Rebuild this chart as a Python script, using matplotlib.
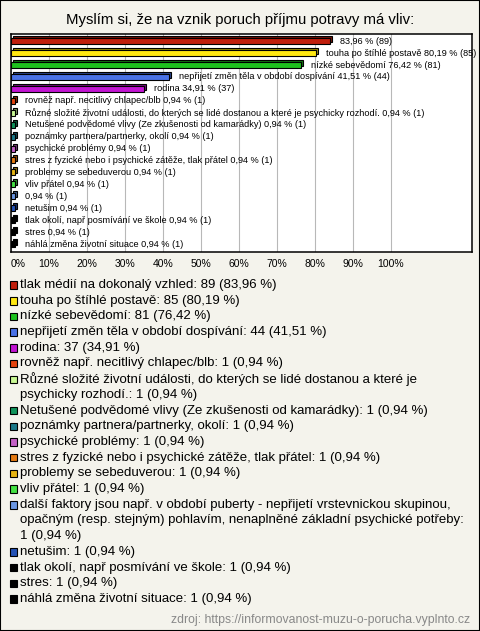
import numpy as np
import matplotlib.pyplot as plt
from matplotlib.patches import Rectangle
from matplotlib.transforms import ScaledTranslation

plt.rcParams['font.family'] = ['Liberation Sans', 'DejaVu Sans']

W, H, DPI = 480, 631, 100

title = "Myslím si, že na vznik poruch příjmu potravy má vliv:"
source = "zdroj: https://informovanost-muzu-o-porucha.vyplnto.cz"

answers = [
    "tlak médií na dokonalý vzhled",
    "touha po štíhlé postavě",
    "nízké sebevědomí",
    "nepřijetí změn těla v období dospívání",
    "rodina",
    "rovněž např. necitlivý chlapec/blb",
    "Různé složité životní události, do kterých se lidé dostanou a které je psychicky rozhodí.",
    "Netušené podvědomé vlivy (Ze zkušenosti od kamarádky)",
    "poznámky partnera/partnerky, okolí",
    "psychické problémy",
    "stres z fyzické nebo i psychické zátěže, tlak přátel",
    "problemy se sebeduverou",
    "vliv přátel",
    "další faktory jsou např. v období puberty - nepřijetí vrstevnickou skupinou, "
    "opačným (resp. stejným) pohlavím, nenaplněné základní psychické potřeby",
    "netušim",
    "tlak okolí, např posmívání ve škole",
    "stres",
    "náhlá změna životní situace",
]
counts = [89, 85, 81, 44, 37, 1, 1, 1, 1, 1, 1, 1, 1, 1, 1, 1, 1, 1]
percents = [83.96, 80.19, 76.42, 41.51, 34.91, 0.94, 0.94, 0.94, 0.94,
            0.94, 0.94, 0.94, 0.94, 0.94, 0.94, 0.94, 0.94, 0.94]
colors = ["#c01e0c", "#ffe812", "#1ec21e", "#4a72e6", "#c214d2", "#e4440e",
          "#c8f894", "#10945c", "#1a7888", "#c462c6", "#e47a12", "#e6b414",
          "#44e244", "#6a96e2", "#2452b4", "#000000", "#000000", "#000000"]
# the chart itself leaves the answer text out of these bar labels
hide_name = [True, False, False, False, False, False, False, False, False,
             False, False, False, False, True, False, False, False, False]


def cz(p):
    return f"{p:.2f}".replace(".", ",")


def darker(c, f=0.6):
    r, g, b = [int(c[i:i + 2], 16) / 255 for i in (1, 3, 5)]
    return (r * f, g * f, b * f)


fig = plt.figure(figsize=(W / DPI, H / DPI), dpi=DPI)
fig.patch.set_facecolor("#f4f3ec")
fig.patches.append(Rectangle((0, 0), 1, 1, transform=fig.transFigure,
                             fill=False, edgecolor="black", lw=1.5))

fig.text(0.5, 1 - 20 / H, title, ha="center", va="center", fontsize=10.7)

ax = fig.add_axes([11 / W, 1 - 252 / H, 461 / W, 218 / H])
ax.set_facecolor("white")
for s in ax.spines.values():
    s.set_linewidth(1.1)

y = np.arange(len(answers))
back = ax.transData + ScaledTranslation(2 / DPI, 2 / DPI, fig.dpi_scale_trans)
ax.barh(y, percents, height=0.5, color=[darker(c) for c in colors],
        edgecolor="black", linewidth=0.8, transform=back, zorder=2)
ax.barh(y, percents, height=0.5, color=colors, edgecolor="black",
        linewidth=0.8, zorder=3)

for i, (name, p, n) in enumerate(zip(answers, percents, counts)):
    txt = f"{cz(p)} % ({n})" if hide_name[i] else f"{name} {cz(p)} % ({n})"
    ax.annotate(txt, (p, i), xytext=(10, 0), textcoords="offset pixels",
                va="center", ha="left", fontsize=6.6, annotation_clip=False,
                zorder=4)

ax.set_xlim(0, 461 / 3.8)
ax.set_ylim(len(answers) - 0.33, -0.6)
ticks = np.arange(0, 101, 10)
ax.set_xticks(ticks)
ax.set_xticklabels([f"{t}%" for t in ticks], fontsize=7.5)
ax.get_xticklabels()[0].set_ha("left")
ax.set_yticks([])
ax.tick_params(axis="x", length=0, pad=5)
ax.grid(axis="x", color="#b8b8b8", lw=0.8)
ax.set_axisbelow(True)

# legend below the plot, drawn line by line
renderer = fig.canvas.get_renderer()
LEG_FS = 9.5
MAX_W = 470 - 20


def text_w(s):
    t = fig.text(0, 0, s, fontsize=LEG_FS)
    w = t.get_window_extent(renderer).width
    t.remove()
    return w


def wrap(s):
    lines, cur = [], ""
    for word in s.split(" "):
        test = word if not cur else cur + " " + word
        if cur and text_w(test) > MAX_W:
            lines.append(cur)
            cur = word
        else:
            cur = test
    lines.append(cur)
    return lines


line_y = 285
step = 15.7
for name, p, n, c in zip(answers, percents, counts, colors):
    lines = wrap(f"{name}: {n} ({cz(p)} %)")
    fig.patches.append(Rectangle((9.5 / W, 1 - (line_y + 3.8) / H),
                                 7.5 / W, 7.5 / H, transform=fig.transFigure,
                                 facecolor=c, edgecolor="black", lw=0.8))
    for ln in lines:
        fig.text(20 / W, 1 - line_y / H, ln, ha="left", va="center",
                 fontsize=LEG_FS)
        line_y += step

fig.text(470 / W, 1 - 620 / H, source, ha="right", va="center",
         fontsize=8.8, color="#888888")

fig.savefig("out.png", dpi=DPI, facecolor=fig.get_facecolor())
